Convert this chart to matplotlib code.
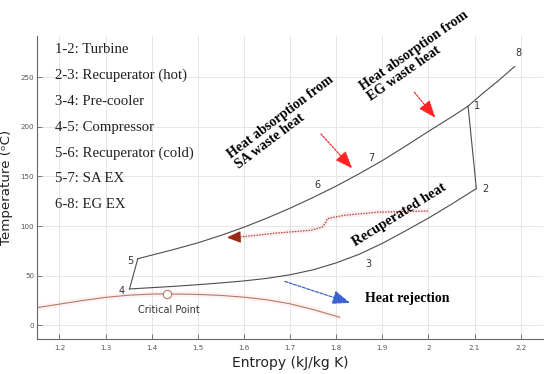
import matplotlib
matplotlib.use("Agg")
import matplotlib.pyplot as plt

# cycle states (entropy kJ/kg K, temperature C)
s_hot = [1.370, 1.45, 1.50, 1.55, 1.60, 1.65, 1.70, 1.75, 1.80, 1.85, 1.90, 1.95,
         2.00, 2.05, 2.086, 2.12, 2.15, 2.187]                                   # 5-6-7-1-8
T_hot = [67, 76.6, 83, 90.5, 98.8, 108, 118, 128.8, 140.3, 152.8, 166, 180.5,
         195.5, 210, 221, 234.7, 246, 261]
s_turb = [2.086, 2.104]            # 1-2
T_turb = [221, 137.8]
s_low = [2.104, 2.05, 2.0, 1.95, 1.9, 1.85, 1.8, 1.75, 1.7, 1.65, 1.6, 1.55,
         1.5, 1.45, 1.4, 1.352]                                                  # 2-3-4
T_low = [137.8, 122, 108, 95, 82.5, 71.5, 62.8, 55.8, 50.8, 47.2, 44.6, 42.6,
         40.8, 39.2, 37.8, 36.5]
s_comp = [1.352, 1.370]            # 4-5
T_comp = [36.5, 67]

# saturation dome
s_dome = [1.15, 1.2, 1.25, 1.3, 1.35, 1.4, 1.433, 1.5, 1.55, 1.6, 1.65, 1.7, 1.75, 1.807]
T_dome = [17.5, 21.2, 24.8, 28, 30.2, 31.3, 31.5, 31, 30, 28.2, 25.6, 21.5, 15.8, 8]
crit_s, crit_T = 1.433, 31.5

# recuperated heat path
s_rec = [1.999, 1.89, 1.817, 1.781, 1.778, 1.77, 1.745, 1.673, 1.593]
T_rec = [115.2, 114, 110.8, 107.5, 104, 99, 95.7, 93, 89]

point_labels = ["1", "2", "3", "4", "5", "6", "7", "8"]
label_s = [2.106, 2.123, 1.869, 1.336, 1.354, 1.760, 1.877, 2.195]
label_T = [221, 137, 62, 34, 65, 141, 169, 275]

legend_lines = ["1-2: Turbine", "2-3: Recuperator (hot)", "3-4: Pre-cooler",
                "4-5: Compressor", "5-6: Recuperator (cold)", "5-7: SA EX", "6-8: EG EX"]

xticks = [1.2, 1.3, 1.4, 1.5, 1.6, 1.7, 1.8, 1.9, 2.0, 2.1, 2.2]
xticklabels = ["1.2", "1.3", "1.4", "1.5", "1.6", "1.7", "1.8", "1.9", "2", "2.1", "2.2"]
yticks = [0, 50, 100, 150, 200, 250]

fig = plt.figure(figsize=(5.5, 3.74), dpi=100)
ax = fig.add_axes([0.0673, 0.0936, 0.92, 0.8107])
ax.set_xlim(1.1515, 2.2485)
ax.set_ylim(-14, 292)

# grid and axes styling
ax.set_xticks(xticks)
ax.set_xticklabels(xticklabels)
ax.set_yticks(yticks)
ax.grid(True, color="#e6e6e6", lw=0.7)
ax.set_axisbelow(True)
for side in ["top", "right"]:
    ax.spines[side].set_visible(False)
for side in ["left", "bottom"]:
    ax.spines[side].set_color("#666666")
    ax.spines[side].set_linewidth(0.8)
ax.tick_params(direction="in", length=3.5, width=0.6, colors="#666666",
               labelsize=5.1, labelcolor="#555555")
ax.tick_params(axis="y", pad=2)
ax.tick_params(axis="x", pad=4)
ax.set_xlabel("Entropy (kJ/kg K)", fontsize=10, color="#222222", labelpad=4)
ax.set_ylabel("Temperature (\u1d52C)", fontsize=9.6, color="#222222")
ax.yaxis.set_label_coords(-0.047, 0.5)

# dome with faint pink glow
ax.plot(s_dome, T_dome, color="#f4c8d4", lw=4, alpha=0.25, solid_capstyle="round")
ax.plot(s_dome, T_dome, color="#b87a62", lw=0.8)
ax.plot([crit_s], [crit_T], "o", ms=6, mfc="white", mec="#b87a62", mew=0.8)
ax.text(1.437, 15.5, "Critical Point", fontsize=7, color="#333333", ha="center", va="center")

# cycle
cyc = dict(color="#4d4d4d", lw=0.8)
ax.plot(s_hot, T_hot, **cyc)
ax.plot(s_turb, T_turb, **cyc)
ax.plot(s_low, T_low, **cyc)
ax.plot(s_comp, T_comp, **cyc)

for lab, s, T in zip(point_labels, label_s, label_T):
    ax.text(s, T, lab, fontsize=7, color="#333333", ha="center", va="center")

# recuperated heat arrow
ax.plot(s_rec, T_rec, color="#f6c6d6", lw=4, alpha=0.25)
ax.plot(s_rec, T_rec, color="#a8442a", lw=0.9, ls=(0, (1.2, 1.0)))
ax.annotate("", xy=(1.557, 88.3), xytext=(1.595, 89),
            arrowprops=dict(arrowstyle="-|>,head_length=0.7,head_width=0.3",
                            color="#9c2a14", lw=0.9, mutation_scale=12))

# heat absorption arrows
red_arrow = dict(arrowstyle="-|>,head_length=0.9,head_width=0.35", color="#ff2222",
                 lw=0.9, ls=(0, (1.5, 1.2)), mutation_scale=12)
ax.annotate("", xy=(1.839, 156), xytext=(1.763, 195), arrowprops=red_arrow)
ax.annotate("", xy=(2.019, 207), xytext=(1.966, 237), arrowprops=red_arrow)

# heat rejection arrow
ax.annotate("", xy=(1.836, 21.6), xytext=(1.683, 45),
            arrowprops=dict(arrowstyle="-|>,head_length=0.9,head_width=0.35",
                            color="#3a62d0", lw=0.9, ls=(0, (2.5, 1.2)), mutation_scale=12))

serif = ["Liberation Serif", "DejaVu Serif"]
ax.text(1.687, 205, "Heat absorption from\nSA waste heat", family=serif, fontweight="bold",
        fontsize=10, rotation=37, ha="center", va="center", multialignment="left",
        rotation_mode="anchor", linespacing=1.0)
ax.text(1.977, 272, "Heat absorption from\nEG waste heat", family=serif, fontweight="bold",
        fontsize=10, rotation=35, ha="center", va="center", multialignment="left",
        rotation_mode="anchor", linespacing=1.0)
ax.text(1.938, 111.7, "Recuperated heat", family=serif, fontweight="bold",
        fontsize=10.3, rotation=32, ha="center", va="center", rotation_mode="anchor")
ax.text(1.862, 27, "Heat rejection", family=serif, fontweight="bold",
        fontsize=10, ha="left", va="center")

# legend-like list
for i, line in enumerate(legend_lines):
    y_px = 50 + i * 25.8
    ax.text(0.0356, (339 - y_px) / 303, line, transform=ax.transAxes, family=serif,
            fontsize=10.6, color="#222222", ha="left", va="center")

fig.savefig("out.png", dpi=100)
